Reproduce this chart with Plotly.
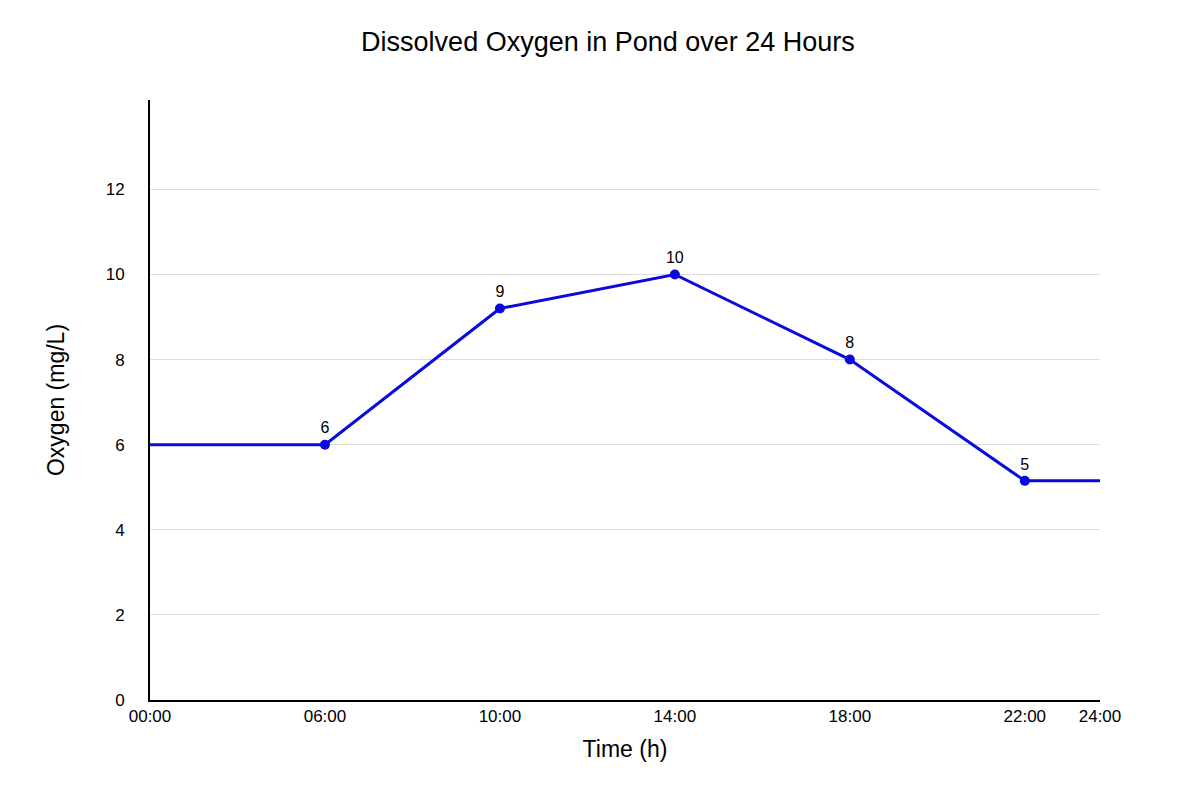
import plotly.graph_objects as go

time_labels = ["00:00", "06:00", "10:00", "14:00", "18:00", "22:00", "24:00"]
time_pos = [0, 1, 2, 3, 4, 5, 5.43]
oxygen = [6.0, 6.0, 9.2, 10.0, 8.0, 5.15, 5.15]
point_labels = ["", "6", "9", "10", "8", "5", ""]

fig = go.Figure()
fig.add_trace(go.Scatter(x=time_pos, y=oxygen, mode="lines",
                         line=dict(color="#0a0adc", width=3), hoverinfo="skip"))
fig.add_trace(go.Scatter(x=time_pos[1:6], y=oxygen[1:6], mode="markers+text",
                         marker=dict(color="#0a0adc", size=10),
                         text=point_labels[1:6], textposition="top center",
                         textfont=dict(size=16, color="#000")))
fig.update_layout(
    width=1200, height=800, showlegend=False,
    plot_bgcolor="white", paper_bgcolor="white",
    font=dict(family="Liberation Sans, Arial", color="#000", size=17),
    title=dict(text="Dissolved Oxygen in Pond over 24 Hours", x=0.5, y=0.97,
               font=dict(size=27)),
    margin=dict(l=142, r=108, t=92, b=108),
    xaxis=dict(range=[0, 5.43], tickvals=time_pos, ticktext=time_labels,
               showgrid=False, showline=True, linecolor="#000", linewidth=2,
               zeroline=False, title=dict(text="Time (h)", font=dict(size=23)),
               tickfont=dict(size=17)),
    yaxis=dict(range=[0, 14.1], tickvals=[0, 2, 4, 6, 8, 10, 12],
               showgrid=True, gridcolor="#dddddd", showline=True,
               linecolor="#000", linewidth=2, zeroline=False,
               title=dict(text="Oxygen (mg/L)", font=dict(size=23), standoff=35),
               tickfont=dict(size=17), ticklabelstandoff=20),
)
fig.write_html("out.html")
